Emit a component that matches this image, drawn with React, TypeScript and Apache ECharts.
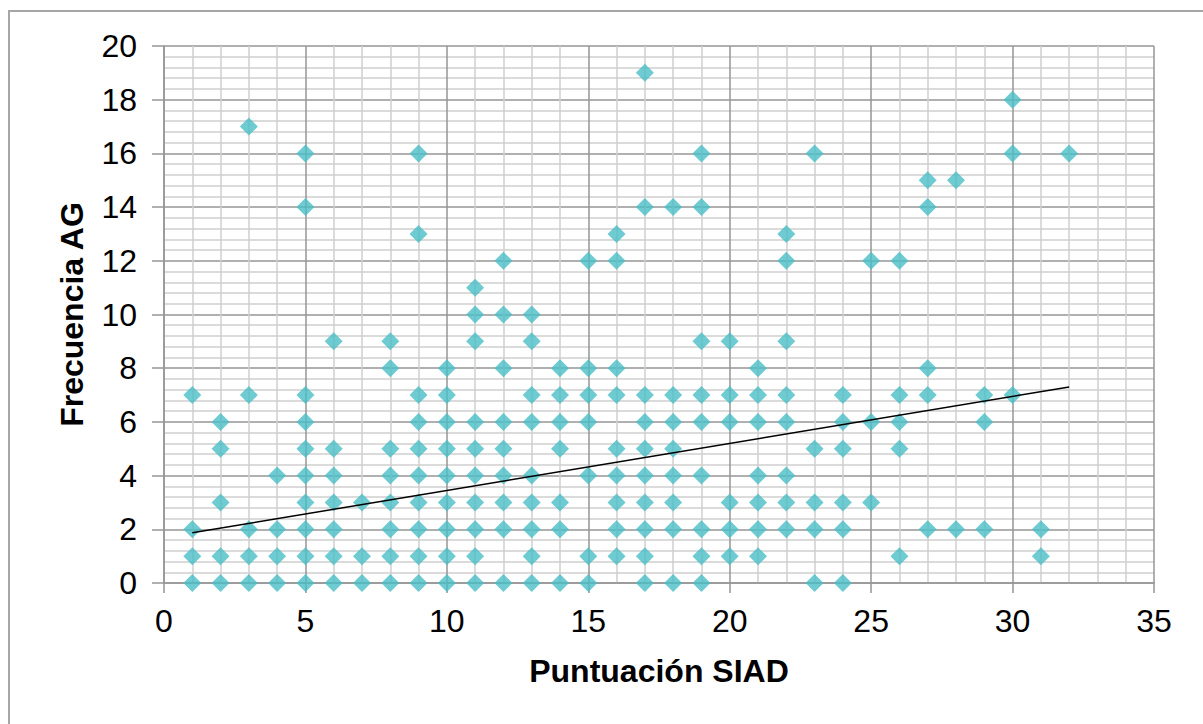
import React, { useEffect, useRef } from "react";
import * as echarts from "echarts";

// Puntuación SIAD (x) and, for each, the Frecuencia AG values (y) observed
const puntuacionSIAD = [
  1, 2, 3, 4, 5, 6, 7, 8, 9, 10, 11, 12, 13, 14, 15, 16,
  17, 18, 19, 20, 21, 22, 23, 24, 25, 26, 27, 28, 29, 30, 31, 32,
];
const frecuenciaAG: number[][] = [
  [7, 2, 1, 0],
  [6, 5, 3, 1, 0],
  [17, 7, 2, 1, 0],
  [4, 2, 1, 0],
  [16, 14, 7, 6, 5, 4, 3, 2, 1, 0],
  [9, 5, 4, 3, 2, 1, 0],
  [3, 1, 0],
  [9, 8, 5, 4, 3, 2, 1, 0],
  [16, 13, 7, 6, 5, 4, 3, 2, 1, 0],
  [8, 7, 6, 5, 4, 3, 2, 1, 0],
  [11, 10, 9, 6, 5, 4, 3, 2, 1, 0],
  [12, 10, 8, 6, 5, 4, 3, 2, 0],
  [10, 9, 7, 6, 4, 3, 2, 1, 0],
  [8, 7, 6, 5, 3, 2, 0],
  [12, 8, 7, 6, 4, 1, 0],
  [13, 12, 8, 7, 5, 4, 3, 2, 1],
  [19, 14, 7, 6, 5, 4, 3, 2, 1, 0],
  [14, 7, 6, 5, 4, 3, 2, 0],
  [16, 14, 9, 7, 6, 4, 2, 1, 0],
  [9, 7, 6, 3, 2, 1],
  [8, 7, 6, 4, 3, 2, 1],
  [13, 12, 9, 7, 6, 4, 3, 2],
  [16, 5, 3, 2, 0],
  [7, 6, 5, 3, 2, 0],
  [12, 6, 3],
  [12, 7, 6, 5, 1],
  [15, 14, 8, 7, 2],
  [15, 2],
  [7, 6, 2],
  [18, 16, 7],
  [2, 1],
  [16],
];

// Linear trend line end points
const trendX = [1, 32];
const trendY = [1.87, 7.3];

const FONT = "'Liberation Sans', Arial, sans-serif";

export default function App() {
  const ref = useRef<HTMLDivElement>(null);

  useEffect(() => {
    if (!ref.current) return;
    const chart = echarts.init(ref.current, null, { renderer: "svg" });

    const scatterData: [number, number][] = [];
    puntuacionSIAD.forEach((x, i) => {
      frecuenciaAG[i].forEach((y) => scatterData.push([x, y]));
    });
    const trendData = trendX.map((x, i) => [x, trendY[i]]);

    const majorLine = { color: "#969696", width: 1.5 };
    const minorLine = { color: "#cfcfcf", width: 1.5 };

    chart.setOption({
      animation: false,
      backgroundColor: "#ffffff",
      grid: { left: 164, right: 49, top: 46, bottom: 141, containLabel: false },
      graphic: [
        {
          type: "rect",
          shape: { x: 9, y: 11, width: 1200, height: 720 },
          style: { fill: "none", stroke: "#a6a6a6", lineWidth: 2 },
          silent: true,
        },
      ],
      xAxis: {
        type: "value",
        min: 0,
        max: 35,
        interval: 5,
        name: "Puntuación SIAD",
        nameLocation: "middle",
        nameGap: 72,
        nameTextStyle: { fontFamily: FONT, fontSize: 32, fontWeight: "bold", color: "#000" },
        axisLine: { show: true, onZero: false, lineStyle: majorLine },
        axisTick: { show: true, length: 10, lineStyle: majorLine },
        axisLabel: { fontFamily: FONT, fontSize: 32, color: "#000", margin: 22 },
        splitLine: { show: true, lineStyle: majorLine },
        minorTick: { show: false, splitNumber: 5 },
        minorSplitLine: { show: true, lineStyle: minorLine },
      },
      yAxis: {
        type: "value",
        min: 0,
        max: 20,
        interval: 2,
        name: "Frecuencia AG",
        nameLocation: "middle",
        nameGap: 76,
        nameTextStyle: { fontFamily: FONT, fontSize: 32, fontWeight: "bold", color: "#000" },
        axisLine: { show: true, onZero: false, lineStyle: majorLine },
        axisTick: { show: true, length: 12, lineStyle: majorLine },
        axisLabel: { fontFamily: FONT, fontSize: 32, color: "#000", margin: 27 },
        splitLine: { show: true, lineStyle: majorLine },
        minorTick: { show: false, splitNumber: 5 },
        minorSplitLine: { show: true, lineStyle: minorLine },
      },
      series: [
        {
          type: "scatter",
          data: scatterData,
          symbol: "diamond",
          symbolSize: 18,
          itemStyle: { color: "#48BEC6" },
          z: 2,
        },
        {
          type: "line",
          data: trendData,
          showSymbol: false,
          symbol: "none",
          lineStyle: { color: "#000", width: 1.5 },
          z: 3,
        },
      ],
    });

    return () => chart.dispose();
  }, []);

  return (
    <div
      ref={ref}
      style={{ position: "fixed", left: 0, top: 0, width: 1203, height: 724 }}
    />
  );
}
